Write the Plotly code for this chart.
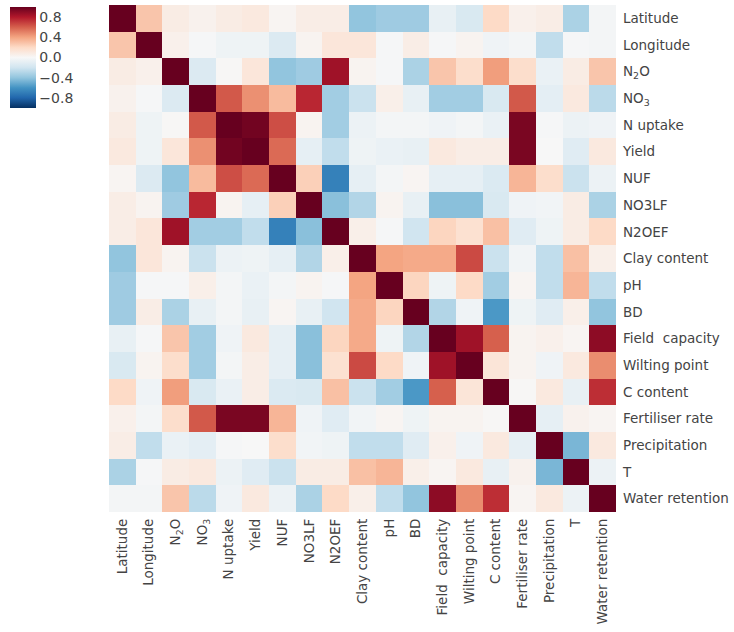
import plotly.graph_objects as go

# variables in the order they appear on both axes
variables = ["Latitude", "Longitude", "N2O", "NO3", "N uptake", "Yield", "NUF",
             "NO3LF", "N2OEF", "Clay content", "pH", "BD", "Field  capacity",
             "Wilting point", "C content", "Fertiliser rate", "Precipitation",
             "T", "Water retention"]
tick_labels = ["Latitude", "Longitude", "N<sub>2</sub>O", "NO<sub>3</sub>", "N uptake",
               "Yield", "NUF", "NO3LF", "N2OEF", "Clay content", "pH", "BD",
               "Field  capacity", "Wilting point", "C content", "Fertiliser rate",
               "Precipitation", "T", "Water retention"]

# correlation matrix, one row per variable
corr = [
    [1.00, 0.28, 0.08, 0.04, 0.08, 0.10, 0.02, 0.07, 0.07, -0.40, -0.36, -0.36, -0.08, -0.16, 0.20, 0.05, 0.07, -0.32, -0.02],
    [0.28, 1.00, 0.05, -0.01, -0.05, -0.05, -0.14, 0.03, 0.12, 0.12, -0.01, 0.07, -0.01, 0.03, -0.04, -0.02, -0.25, -0.01, -0.02],
    [0.08, 0.05, 1.00, -0.14, 0.01, 0.12, -0.40, -0.36, 0.85, 0.03, -0.01, -0.32, 0.28, 0.18, 0.42, 0.18, -0.07, 0.08, 0.28],
    [0.04, -0.01, -0.14, 1.00, 0.62, 0.46, 0.32, 0.76, -0.35, -0.22, 0.06, -0.08, -0.35, -0.35, -0.16, 0.62, -0.10, 0.10, -0.27],
    [0.08, -0.05, 0.01, 0.62, 1.00, 0.97, 0.65, 0.03, -0.35, -0.06, -0.02, -0.02, -0.04, -0.02, -0.07, 0.95, -0.01, -0.06, -0.04],
    [0.10, -0.05, 0.12, 0.46, 0.97, 1.00, 0.57, -0.09, -0.25, -0.05, -0.07, -0.08, 0.10, 0.07, 0.07, 0.95, 0.00, -0.12, 0.10],
    [0.02, -0.14, -0.40, 0.32, 0.65, 0.57, 1.00, 0.24, -0.68, -0.09, -0.02, 0.02, -0.09, -0.09, -0.15, 0.34, 0.18, -0.22, -0.06],
    [0.07, 0.03, -0.36, 0.76, 0.03, -0.09, 0.24, 1.00, -0.42, -0.30, 0.03, -0.08, -0.42, -0.42, -0.16, -0.04, -0.03, 0.08, -0.32],
    [0.07, 0.12, 0.85, -0.35, -0.35, -0.25, -0.68, -0.42, 1.00, 0.06, -0.01, -0.20, 0.22, 0.16, 0.30, -0.12, -0.05, 0.08, 0.20],
    [-0.40, 0.12, 0.03, -0.22, -0.06, -0.05, -0.09, -0.30, 0.06, 1.00, 0.40, 0.38, 0.38, 0.66, -0.22, -0.03, -0.25, 0.30, 0.06],
    [-0.36, -0.01, -0.01, 0.06, -0.02, -0.07, -0.02, 0.03, -0.01, 0.40, 1.00, 0.22, -0.05, 0.20, -0.35, 0.02, -0.25, 0.34, -0.25],
    [-0.36, 0.07, -0.32, -0.08, -0.02, -0.08, 0.02, -0.08, -0.20, 0.38, 0.22, 1.00, -0.30, -0.04, -0.58, -0.05, -0.12, 0.06, -0.40],
    [-0.08, -0.01, 0.28, -0.35, -0.04, 0.10, -0.09, -0.42, 0.22, 0.38, -0.05, -0.30, 1.00, 0.85, 0.60, 0.03, 0.05, 0.02, 0.90],
    [-0.16, 0.03, 0.18, -0.35, -0.02, 0.07, -0.09, -0.42, 0.16, 0.66, 0.20, -0.04, 0.85, 1.00, 0.13, 0.03, -0.04, 0.10, 0.47],
    [0.20, -0.04, 0.42, -0.16, -0.07, 0.07, -0.15, -0.16, 0.30, -0.22, -0.35, -0.58, 0.60, 0.13, 1.00, 0.01, 0.10, -0.08, 0.74],
    [0.05, -0.02, 0.18, 0.62, 0.95, 0.95, 0.34, -0.04, -0.12, -0.03, 0.02, -0.05, 0.03, 0.03, 0.01, 1.00, -0.09, 0.04, 0.02],
    [0.07, -0.25, -0.07, -0.10, -0.01, 0.00, 0.18, -0.03, -0.05, -0.25, -0.25, -0.12, 0.05, -0.04, 0.10, -0.09, 1.00, -0.46, 0.10],
    [-0.32, -0.01, 0.08, 0.10, -0.06, -0.12, -0.22, 0.08, 0.08, 0.30, 0.34, 0.06, 0.02, 0.10, -0.08, 0.04, -0.46, 1.00, -0.06],
    [-0.02, -0.02, 0.28, -0.27, -0.04, 0.10, -0.06, -0.32, 0.20, 0.06, -0.25, -0.40, 0.90, 0.47, 0.74, 0.02, 0.10, -0.06, 1.00],
]

cbar_vals = [0.8, 0.4, 0.0, -0.4, -0.8]
cbar_text = ["0.8", "0.4", "0.0", "\u22120.4", "\u22120.8"]

# matplotlib RdBu_r
rdbu_r = ["#053061", "#2166ac", "#4393c3", "#92c5de", "#d1e5f0", "#f7f7f7",
          "#fddbc7", "#f4a582", "#d6604d", "#b2182b", "#67001f"]
colorscale = [[i / 10, c] for i, c in enumerate(rdbu_r)]

idx = list(range(len(variables)))

fig = go.Figure(go.Heatmap(
    z=corr, x=idx, y=idx,
    zmin=-1, zmax=1,
    colorscale=colorscale,
    customdata=[[[variables[r], variables[c]] for c in idx] for r in idx],
    hovertemplate="%{customdata[0]} / %{customdata[1]}: %{z:.2f}<extra></extra>",
    colorbar=dict(
        x=-0.195, xanchor="left", xpad=0,
        y=0.996, yanchor="top", ypad=0,
        len=101, lenmode="pixels",
        thickness=26,
        outlinewidth=0,
        tickvals=cbar_vals, ticktext=cbar_text,
        ticks="",
        tickfont=dict(size=14, color="#444"),
    ),
))

fig.update_layout(
    width=734, height=632,
    margin=dict(l=109, r=118, t=5, b=120, autoexpand=False),
    paper_bgcolor="white", plot_bgcolor="white",
    font=dict(family="DejaVu Sans", size=13.5, color="#444"),
)
fig.update_xaxes(tickvals=idx, ticktext=tick_labels, tickangle=-90,
                 showgrid=False, zeroline=False, ticks="", automargin=False,
                 ticklabelstandoff=3)
fig.update_yaxes(tickvals=idx, ticktext=tick_labels, side="right",
                 autorange="reversed", showgrid=False, zeroline=False,
                 ticks="", automargin=False, ticklabelstandoff=6)

# the default page keeps an 8px body margin; drop it so the figure fills the window
fig.write_html("out.html", config={"displayModeBar": False},
               post_script="document.body.style.margin='0';")
